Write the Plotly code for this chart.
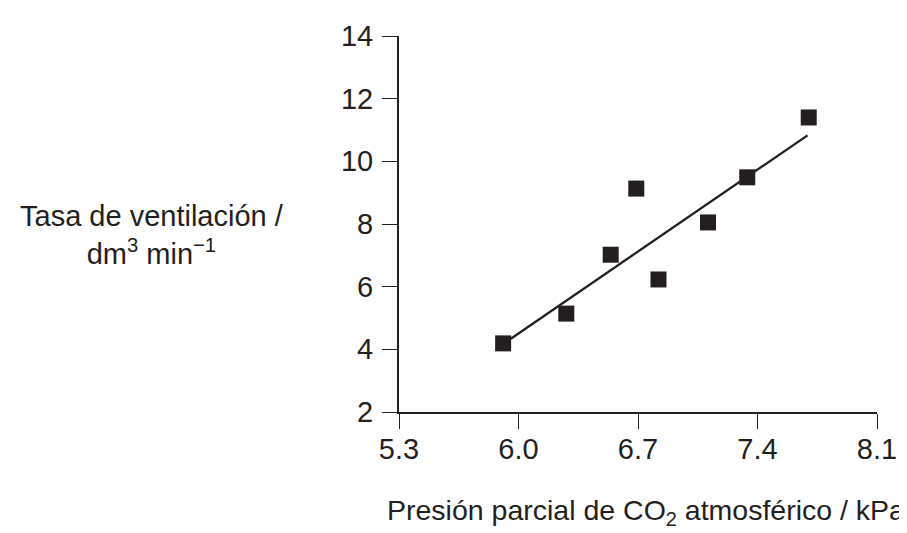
import plotly.graph_objects as go

# Data
co2_kpa = [5.91, 6.28, 6.54, 6.69, 6.82, 7.11, 7.34, 7.70]
ventilation = [4.19, 5.14, 7.02, 9.13, 6.23, 8.05, 9.49, 11.40]

# Best-fit line endpoints as drawn
fit_x = [5.955, 7.693]
fit_y = [4.34, 10.83]

x_ticks = [5.3, 6.0, 6.7, 7.4, 8.1]
x_tick_labels = ["5.3", "6.0", "6.7", "7.4", "8.1"]
y_ticks = [2, 4, 6, 8, 10, 12, 14]

INK = "#231f20"
FONT = "Liberation Sans, Arial, Helvetica, sans-serif"
FS = 29

L, R, T, B = 391, 38, 22, 129
W, H = 907, 533
pw, ph = W - L - R, H - T - B

fig = go.Figure()
fig.add_trace(go.Scatter(x=fit_x, y=fit_y, mode="lines",
                         line=dict(color=INK, width=2.3),
                         showlegend=False, hoverinfo="skip"))
fig.add_trace(go.Scatter(x=co2_kpa, y=ventilation, mode="markers",
                         marker=dict(symbol="square", size=16, color=INK, line=dict(width=0)),
                         showlegend=False))

fig.update_layout(
    width=W, height=H,
    margin=dict(l=L, r=R, t=T, b=B),
    paper_bgcolor="white", plot_bgcolor="white",
    font=dict(family=FONT, size=FS, color=INK),
    xaxis=dict(range=[5.3, 8.1], tickvals=x_ticks, ticktext=x_tick_labels,
               showline=True, linecolor=INK, linewidth=2,
               ticks="outside", ticklen=15, tickwidth=1.3, tickcolor=INK,
               showgrid=False, zeroline=False, ticklabelstandoff=-5),
    yaxis=dict(range=[2, 14], tickvals=y_ticks,
               showline=True, linecolor=INK, linewidth=2,
               ticks="outside", ticklen=15, tickwidth=1.3, tickcolor=INK,
               showgrid=False, zeroline=False, ticklabelstandoff=3),
    annotations=[
        dict(text="Tasa de ventilación /<br>dm<sup>3</sup> min<sup>−1</sup>",
             xref="paper", yref="paper", x=(144 - L) / pw, y=(H - B - 224) / ph,
             xanchor="center", yanchor="middle", showarrow=False, align="center"),
        dict(text="Presión parcial de CO<sub>2</sub> atmosférico / kPa",
             xref="paper", yref="paper", x=(638 - L) / pw, y=(H - B - 506) / ph,
             xanchor="center", yanchor="middle", showarrow=False,
             font=dict(size=28.5)),
    ],
)
fig.write_html("out.html")
